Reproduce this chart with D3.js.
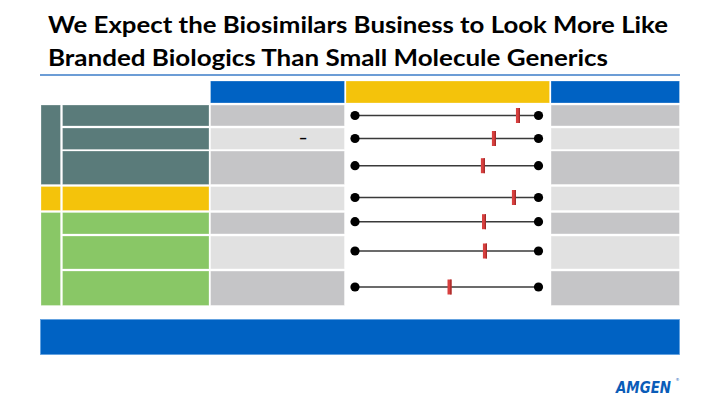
<!DOCTYPE html>
<html>
<head>
<meta charset="utf-8">
<script src="https://cdn.jsdelivr.net/npm/d3@7"></script>
<style>
  html, body { margin: 0; padding: 0; background: #fff; }
  svg { display: block; }
</style>
</head>
<body>
<svg id="chart" width="720" height="405"></svg>
<script>
// ---- Data ----
const titleLines = [
  "We Expect the Biosimilars Business to Look More Like",
  "Branded Biologics Than Small Molecule Generics"
];
const rowIds = ["r1", "r2", "r3", "r4", "r5", "r6", "r7"];
const rowGroups = ["teal", "teal", "teal", "yellow", "green", "green", "green"];
// position of the marker on each spectrum (0 = left end, 1 = right end)
const markerValues = [0.888, 0.757, 0.697, 0.866, 0.703, 0.708, 0.515];
const valueTexts = ["", "–", "", "", "", "", ""];
const groups = ["teal", "yellow", "green"];
const logoText = "AMGEN";

// ---- Layout (not data) ----
const rowTop =    [105, 128, 151, 186.5, 212.5, 236, 271];
const rowBottom = [126, 149.5, 184.5, 210.5, 234, 269, 305.5];
const lineY =     [115.5, 138.5, 165.7, 197.5, 221.7, 251, 287];
const colors = {
  teal: "#5A7B7A", yellow: "#F4C30B", green: "#89C766",
  blue: "#0062C3", grayDark: "#C5C5C7", grayLight: "#E1E1E1",
  red: "#D8403F", redDark: "#A12828"
};

const svg = d3.select("#chart");

// Title
svg.selectAll("text.title").data(titleLines).join("text")
  .attr("class", "title")
  .attr("x", 48)
  .attr("y", (d, i) => 33 + i * 33)
  .attr("font-family", "Lato, 'Open Sans', sans-serif")
  .attr("font-weight", 700)
  .attr("font-size", 23.5)
  .attr("fill", "#000")
  .attr("textLength", (d, i) => i === 0 ? 620 : 560)
  .attr("lengthAdjust", "spacingAndGlyphs")
  .text(d => d);

svg.append("line")
  .attr("x1", 40).attr("x2", 680).attr("y1", 75).attr("y2", 75)
  .attr("stroke", "#3B7DC9").attr("stroke-width", 1.3);

// Header cells
const headers = [
  { x0: 210.5, x1: 344.5, c: colors.blue },
  { x0: 346, x1: 549.5, c: colors.yellow },
  { x0: 551, x1: 679.5, c: colors.blue }
];
svg.selectAll("rect.hdr").data(headers).join("rect")
  .attr("class", "hdr")
  .attr("x", d => d.x0).attr("y", 81)
  .attr("width", d => d.x1 - d.x0).attr("height", 22)
  .attr("fill", d => d.c)
  .attr("stroke", "#ffffff").attr("stroke-opacity", 0.35).attr("stroke-width", 0.8);

// Group column cells
const groupSpans = groups.map(g => {
  const idx = rowGroups.map((r, i) => r === g ? i : -1).filter(i => i >= 0);
  return { g, top: rowTop[d3.min(idx)], bottom: rowBottom[d3.max(idx)] };
});
svg.selectAll("rect.grp").data(groupSpans).join("rect")
  .attr("class", "grp")
  .attr("x", 41).attr("width", 19.5)
  .attr("y", d => d.top).attr("height", d => d.bottom - d.top)
  .attr("fill", d => colors[d.g])
  .attr("stroke", "#ffffff").attr("stroke-opacity", 0.35).attr("stroke-width", 0.8);

// Rows
const rows = rowIds.map((id, i) => ({
  id, i, group: rowGroups[i], v: markerValues[i], txt: valueTexts[i],
  top: rowTop[i], bottom: rowBottom[i], ly: lineY[i]
}));

const rowG = svg.selectAll("g.row").data(rows).join("g").attr("class", "row");

rowG.append("rect")
  .attr("x", 62.5).attr("width", 146.5)
  .attr("y", d => d.top).attr("height", d => d.bottom - d.top)
  .attr("fill", d => colors[d.group])
  .attr("stroke", "#ffffff").attr("stroke-opacity", 0.35).attr("stroke-width", 0.8);

rowG.append("rect")
  .attr("x", 210.5).attr("width", 134)
  .attr("y", d => d.top).attr("height", d => d.bottom - d.top)
  .attr("fill", d => d.i % 2 === 0 ? colors.grayDark : colors.grayLight)
  .attr("stroke", "#ffffff").attr("stroke-opacity", 0.5).attr("stroke-width", 0.8);

rowG.append("rect")
  .attr("x", 551).attr("width", 128.5)
  .attr("y", d => d.top).attr("height", d => d.bottom - d.top)
  .attr("fill", d => d.i % 2 === 0 ? colors.grayDark : colors.grayLight)
  .attr("stroke", "#ffffff").attr("stroke-opacity", 0.5).attr("stroke-width", 0.8);

rowG.filter(d => d.txt).append("text")
  .attr("x", 303).attr("y", d => d.ly + 4.5)
  .attr("text-anchor", "middle")
  .attr("font-family", "Lato, sans-serif")
  .attr("font-size", 15).attr("font-weight", 900)
  .attr("fill", "#000")
  .text(d => d.txt);

// Spectrum lines
const x = d3.scaleLinear().domain([0, 1]).range([355, 538.5]);

rowG.append("line")
  .attr("x1", x(0)).attr("x2", x(1))
  .attr("y1", d => d.ly).attr("y2", d => d.ly)
  .attr("stroke", "#3a3a3a").attr("stroke-width", 1.6);

rowG.selectAll("circle.end").data(d => [0, 1].map(e => ({ e, ly: d.ly }))).join("circle")
  .attr("class", "end")
  .attr("cx", d => x(d.e)).attr("cy", d => d.ly)
  .attr("r", 4.6).attr("fill", "#000");

rowG.append("rect")
  .attr("x", d => x(d.v) - 2).attr("y", d => d.ly - 7.5)
  .attr("width", 4).attr("height", 15)
  .attr("fill", colors.red);
rowG.append("rect")
  .attr("x", d => x(d.v) + 0.8).attr("y", d => d.ly - 7.5)
  .attr("width", 1.2).attr("height", 15)
  .attr("fill", colors.redDark);

// Bottom banner
svg.append("rect")
  .attr("x", 40.5).attr("y", 319.5).attr("width", 639).attr("height", 35)
  .attr("fill", colors.blue)
  .attr("stroke", "#5E9EE0").attr("stroke-width", 0.8);

// Logo
svg.append("text")
  .attr("x", 616).attr("y", 393)
  .attr("font-family", "'DejaVu Sans Condensed', 'DejaVu Sans', sans-serif")
  .attr("font-weight", 700).attr("font-style", "italic")
  .attr("font-size", 15)
  .attr("textLength", 55).attr("lengthAdjust", "spacingAndGlyphs")
  .attr("fill", "#0A5CB8")
  .text(logoText);
svg.append("text")
  .attr("x", 675.5).attr("y", 381)
  .attr("font-family", "'DejaVu Sans', sans-serif")
  .attr("font-size", 4)
  .attr("fill", "#0A5CB8")
  .text("®");
</script>
</body>
</html>
